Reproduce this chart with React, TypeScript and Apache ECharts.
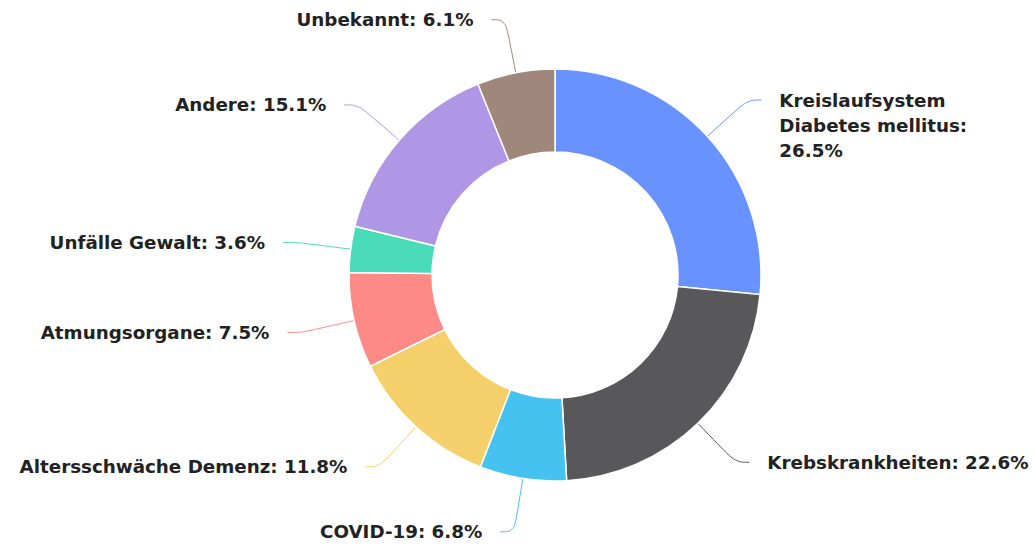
import React, { useEffect, useRef } from "react";
import * as echarts from "echarts";

const categories = [
  "Kreislaufsystem Diabetes mellitus",
  "Krebskrankheiten",
  "COVID-19",
  "Altersschwäche Demenz",
  "Atmungsorgane",
  "Unfälle Gewalt",
  "Andere",
  "Unbekannt",
];
const shares = [26.5, 22.6, 6.8, 11.8, 7.5, 3.6, 15.1, 6.1];
const colors = [
  "#6792ff",
  "#58585b",
  "#46c2f0",
  "#f4cf6a",
  "#fe8a87",
  "#4adbb8",
  "#b097e6",
  "#9f877b",
];

export default function App() {
  const ref = useRef<HTMLDivElement>(null);
  useEffect(() => {
    document.body.style.margin = "0";
    const chart = echarts.init(ref.current!, null, { renderer: "svg" });
    chart.setOption({
      animation: false,
      color: colors,
      series: [
        {
          type: "pie",
          center: [555, 275],
          radius: [123, 206],
          startAngle: 90,
          clockwise: true,
          avoidLabelOverlap: true,
          itemStyle: { borderColor: "#fff", borderWidth: 1.5 },
          label: {
            show: true,
            formatter: (p: any) => {
              const v = `${p.value.toFixed(1)}%`;
              if (p.dataIndex === 0) {
                return `\n\n${p.name.replace(" ", "\n")}:\n${v}`;
              }
              return `${p.name}: ${v}`;
            },
            fontFamily: "DejaVu Sans",
            fontWeight: "bold",
            fontSize: 18.3,
            color: "#222",
            lineHeight: 25,
            overflow: "none",
            distanceToLabelLine: 18,
          },
          labelLine: {
            show: true,
            length: 54,
            length2: 14,
            smooth: 0.4,
            lineStyle: { width: 1 },
          },
          data: categories.map((name, i) => ({ name, value: shares[i] })),
        },
      ],
    });
    return () => chart.dispose();
  }, []);
  return <div ref={ref} style={{ width: 1036, height: 548 }} />;
}
